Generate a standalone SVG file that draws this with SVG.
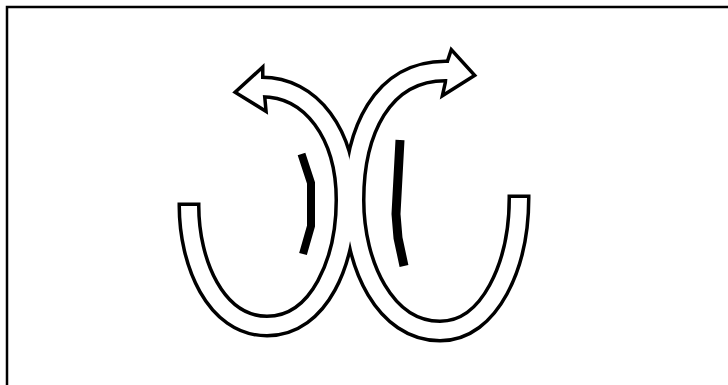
<svg xmlns="http://www.w3.org/2000/svg" width="728" height="385" viewBox="0 0 728 385">
<defs>
<style>
.o{fill:none;stroke:#000;stroke-width:23}
.i{fill:none;stroke:#fff;stroke-width:16}
.ho{fill:#000;stroke:#000;stroke-width:7;stroke-linejoin:miter}
.hi{fill:#fff;stroke:none}
.bar{fill:none;stroke:#000;stroke-linejoin:miter;stroke-linecap:butt}
</style>
<path id="lp" d="M189,206 C189,262 215,326 267,326 C320,326 346,260 346,200 C346,135 312,86 260,87"/>
<path id="rp" d="M519,198 C519,265 490,331 440,331 C385,331 354,265 354,200 C354,135 380,68 450,71"/>
<polygon id="lh" points="261,79 261,71 238,92 264,108 263,97"/>
<polygon id="rh" points="449,62 452,53 472,75 445,92 447,83"/>
</defs>
<rect x="0" y="0" width="728" height="385" fill="#fff"/>
<rect x="7" y="7" width="800" height="500" fill="none" stroke="#000" stroke-width="2.5"/>
<g id="outlines">
<use href="#lp" class="o"/>
<use href="#rp" class="o"/>
<use href="#lh" class="ho"/>
<use href="#rh" class="ho"/>
<rect x="177.5" y="202.5" width="23" height="3.5" fill="#000"/>
<rect x="507.5" y="194.5" width="23" height="3.5" fill="#000"/>
</g>
<g id="fills">
<use href="#lp" class="i"/>
<use href="#rp" class="i"/>
<use href="#lh" class="hi"/>
<use href="#rh" class="hi"/>
</g>
<g id="bars">
<polyline class="bar" stroke-width="8" points="301.5,154 311,183 311,226 303,254"/>
<polyline class="bar" stroke-width="9" points="400,140 396,214 398,238 404,266"/>
</g>
</svg>
